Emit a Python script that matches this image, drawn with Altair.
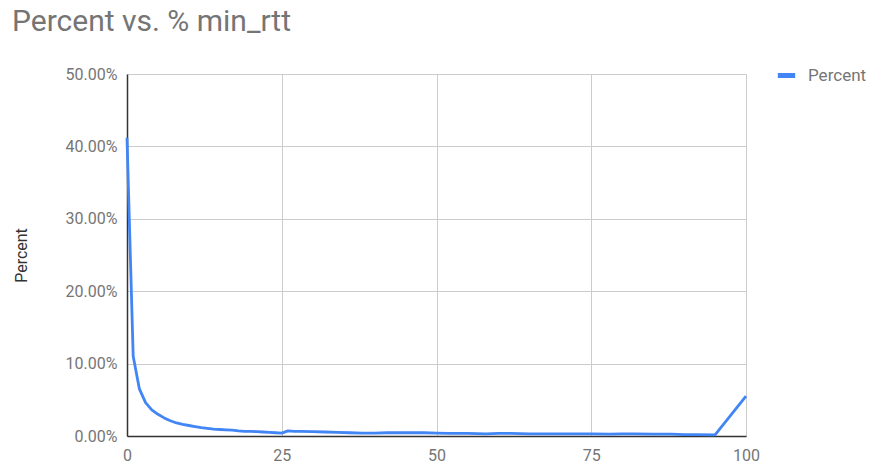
import altair as alt
import pandas as pd

x_vals = [0, 1, 2, 3, 4, 5, 6, 7, 8, 9, 10, 11, 12, 13, 14, 15, 16, 17, 18, 19, 20,
          21, 22, 23, 24, 25, 26, 27, 28, 30, 32, 34, 36, 38, 40, 42, 44, 46, 48, 50,
          52, 55, 58, 60, 62, 65, 68, 70, 72, 75, 78, 80, 82, 85, 88, 90, 92, 95, 100]
pct_vals = [41.2, 11.0, 6.5, 4.6, 3.6, 3.0, 2.5, 2.1, 1.8, 1.6, 1.45, 1.3, 1.15, 1.05, 0.95, 0.9, 0.85, 0.8, 0.7, 0.65, 0.65,
            0.6, 0.55, 0.5, 0.45, 0.4, 0.7, 0.65, 0.65, 0.6, 0.55, 0.5, 0.45, 0.4, 0.4, 0.45, 0.45, 0.45, 0.45, 0.4,
            0.35, 0.35, 0.3, 0.35, 0.35, 0.3, 0.3, 0.3, 0.3, 0.3, 0.25, 0.3, 0.3, 0.25, 0.25, 0.2, 0.2, 0.15, 5.5]

df = pd.DataFrame({"x": x_vals, "Percent": [v / 100 for v in pct_vals], "series": "Percent"})

FONT = "Roboto"
GRAY = "#757575"

chart = alt.Chart(df).mark_line(strokeWidth=2.8, interpolate="linear", strokeJoin="round").encode(
    x=alt.X("x:Q", scale=alt.Scale(domain=[0, 100], nice=False),
            axis=alt.Axis(values=[0, 25, 50, 75, 100], title=None, labelFontSize=16,
                          labelColor=GRAY, labelFont=FONT, labelPadding=11, ticks=False,
                          domainColor="#333333", domainWidth=1.5, gridColor="#cccccc",
                          labelFlush=False)),
    y=alt.Y("Percent:Q", scale=alt.Scale(domain=[0, 0.5], nice=False),
            axis=alt.Axis(values=[0, 0.1, 0.2, 0.3, 0.4, 0.5], format=".2%", title="Percent",
                          titleFont=FONT, titleFontSize=16, titleFontWeight="normal",
                          titleColor="#333333", titlePadding=36,
                          labelFontSize=16, labelColor=GRAY, labelFont=FONT, labelPadding=10,
                          ticks=False, domainColor="#333333", domainWidth=1.5, gridColor="#cccccc")),
    color=alt.Color("series:N", scale=alt.Scale(domain=["Percent"], range=["#4285F4"]),
                    legend=alt.Legend(title=None, orient="none", legendX=648, legendY=-10,
                                      symbolType="stroke", symbolStrokeWidth=5, symbolSize=300,
                                      labelFontSize=17, labelColor=GRAY, labelFont=FONT,
                                      labelOffset=10)),
).properties(
    width=619, height=362,
    title=alt.TitleParams("Percent vs. % min_rtt", anchor="start", frame="group", dx=-115,
                          offset=27, fontSize=30, font=FONT, fontWeight="normal", color=GRAY),
    autosize=alt.AutoSizeParams(type="none"),
    padding={"left": 127, "top": 74, "right": 126, "bottom": 27},
).configure_view(stroke=None)

chart.save("out.html", embed_options={"renderer": "svg", "actions": False})
